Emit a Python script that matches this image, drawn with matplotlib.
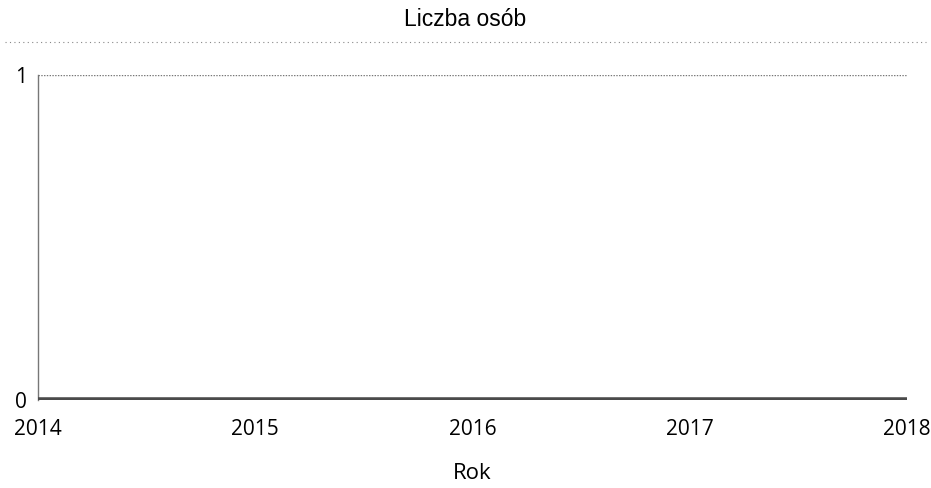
import matplotlib
matplotlib.use("Agg")
import matplotlib.pyplot as plt
from matplotlib.lines import Line2D

years = [2014, 2015, 2016, 2017, 2018]
values = [0, 0, 0, 0, 0]
y_ticks = [0, 1]
title = "Liczba osób"
xlabel = "Rok"

plt.rcParams['font.family'] = ['Open Sans', 'DejaVu Sans']

fig = plt.figure(figsize=(9.31, 4.88), dpi=100)
ax = fig.add_axes([0.0408, 0.1803, 0.9332, 0.666])

ax.plot(years, values, color='#4a4a4a', lw=4, solid_capstyle='butt', zorder=3)
ax.set_xlim(2014, 2018)
ax.set_ylim(0, 1)
ax.set_xticks(years)
ax.set_xticklabels([str(y) for y in years], fontsize=15)
ax.set_yticks(y_ticks)
ax.set_yticklabels([str(t) for t in y_ticks], fontsize=15)
ax.tick_params(length=0)
ax.tick_params(axis='y', pad=8)
ax.tick_params(axis='x', pad=14)

ax.axhline(1, color='#777777', lw=1, ls=(0, (1, 1)), zorder=2)
for s in ['top', 'right', 'bottom']:
    ax.spines[s].set_visible(False)
ax.spines['left'].set_color('#777777')
ax.spines['left'].set_linewidth(1)

ax.set_xlabel(xlabel, fontsize=16, labelpad=16)
fig.text(0.5, 0.961, title, ha='center', va='center', fontsize=16.5,
         family=['Liberation Sans', 'DejaVu Sans'])

fig.add_artist(Line2D([0.005, 0.995], [0.914, 0.914], transform=fig.transFigure,
                      color='#888888', lw=0.8, ls=(0, (1, 3))))

fig.savefig("out.png", dpi=100)
